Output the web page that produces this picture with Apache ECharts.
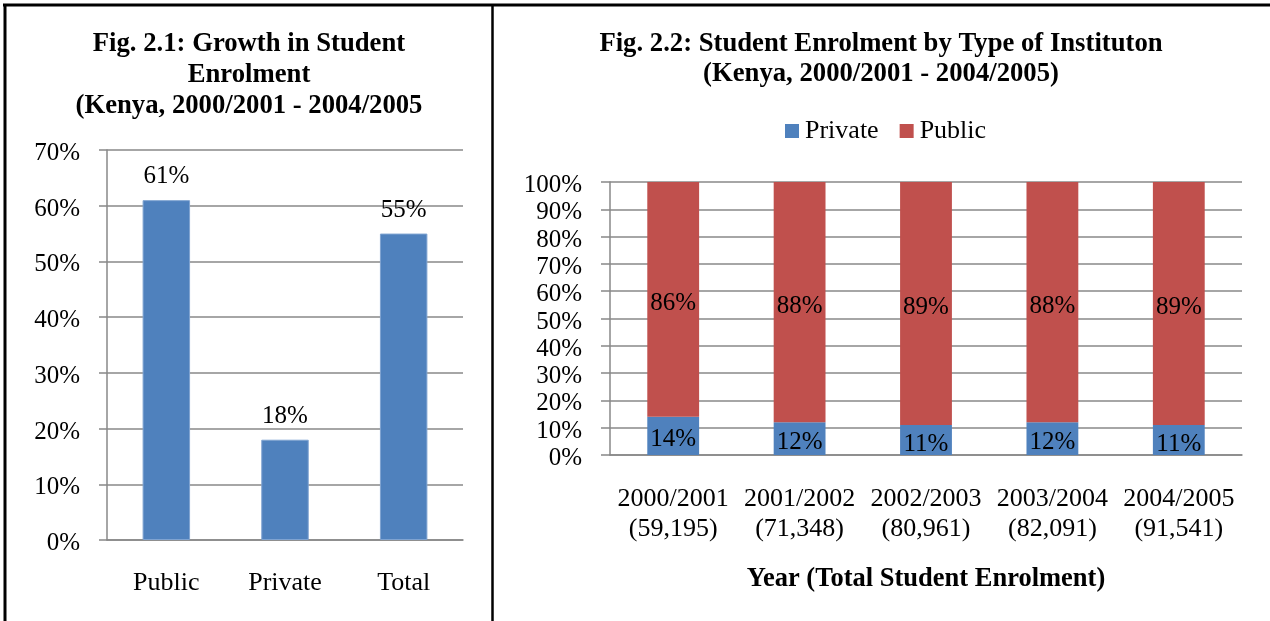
<!DOCTYPE html>
<html>
<head>
<meta charset="utf-8">
<script src="https://cdn.jsdelivr.net/npm/echarts@6/dist/echarts.min.js"></script>
<style>
html,body{margin:0;padding:0;background:#fff;}
#c{width:1270px;height:621px;}
</style>
</head>
<body>
<div id="c"></div>
<script>
// Fig 2.1 data
const growthCategories = ['Public', 'Private', 'Total'];
const growthValues = [61, 18, 55];
const growthTicks = ['0%', '10%', '20%', '30%', '40%', '50%', '60%', '70%'];

// Fig 2.2 data
const years = ['2000/2001', '2001/2002', '2002/2003', '2003/2004', '2004/2005'];
const totals = ['59,195', '71,348', '80,961', '82,091', '91,541'];
const privateShare = [14, 12, 11, 12, 11];
const publicShare = [86, 88, 89, 88, 89];

const FONT = "'Liberation Serif', 'Times New Roman', serif";
const BLUE = '#4F81BD';
const RED = '#C0504D';
const GRID = '#888888';

const yearLabels = years.map((y, i) => y + '\n(' + totals[i] + ')');

const chart = echarts.init(document.getElementById('c'), null, {renderer: 'canvas'});

const yRich = {t: {fontFamily: FONT, fontSize: 25, color: '#000', padding: [7, 0, 0, 0]}};

chart.setOption({
  backgroundColor: '#ffffff',
  animation: false,
  textStyle: {fontFamily: FONT},
  title: [
    {
      text: 'Fig. 2.1: Growth in Student\nEnrolment\n(Kenya, 2000/2001 - 2004/2005',
      left: 249, top: 29, padding: 0,
      textAlign: 'center', textVerticalAlign: 'top',
      textStyle: {fontFamily: FONT, fontSize: 26.7, fontWeight: 'bold', color: '#000', lineHeight: 31}
    },
    {
      text: 'Fig. 2.2: Student Enrolment by Type of Instituton\n(Kenya, 2000/2001 - 2004/2005)',
      left: 881, top: 29, padding: 0,
      textAlign: 'center', textVerticalAlign: 'top',
      textStyle: {fontFamily: FONT, fontSize: 26.7, fontWeight: 'bold', color: '#000', lineHeight: 30}
    }
  ],
  legend: {
    data: ['Private', 'Public'],
    left: 785, top: 118, padding: 0,
    icon: 'rect', itemWidth: 14, itemHeight: 14, itemGap: 21,
    textStyle: {fontFamily: FONT, fontSize: 26, color: '#000', padding: [0, 0, 0, 1]}
  },
  grid: [
    {left: 107, right: 807, top: 150, bottom: 81},
    {left: 610, right: 28, top: 182, bottom: 166}
  ],
  xAxis: [
    {
      gridIndex: 0, type: 'category', data: growthCategories,
      axisLine: {lineStyle: {color: GRID, width: 1.5}},
      axisTick: {length: 7, lineStyle: {color: GRID, width: 1.5}},
      axisLabel: {fontFamily: FONT, fontSize: 26, color: '#000', margin: 28, lineHeight: 30}
    },
    {
      gridIndex: 1, type: 'category', data: yearLabels,
      axisLine: {lineStyle: {color: GRID, width: 1.5}},
      axisTick: {length: 7, lineStyle: {color: GRID, width: 1.5}},
      axisLabel: {fontFamily: FONT, fontSize: 26, color: '#000', margin: 29, lineHeight: 30, interval: 0},
      name: 'Year (Total Student Enrolment)', nameLocation: 'middle', nameGap: 111,
      nameTextStyle: {fontFamily: FONT, fontSize: 26.5, fontWeight: 'bold', color: '#000'}
    }
  ],
  yAxis: [
    {
      gridIndex: 0, type: 'value', min: 0, max: 70, interval: 10,
      axisLine: {show: true, lineStyle: {color: GRID, width: 1.5}},
      axisTick: {show: true, length: 8, lineStyle: {color: GRID, width: 1.5}},
      splitLine: {lineStyle: {color: GRID, width: 1.5}},
      axisLabel: {fontFamily: FONT, fontSize: 25, color: '#000', margin: 27, rich: yRich,
        formatter: v => '{t|' + growthTicks[Math.round(v / 10)] + '}'}
    },
    {
      gridIndex: 1, type: 'value', min: 0, max: 100, interval: 10,
      axisLine: {show: true, lineStyle: {color: GRID, width: 1.5}},
      axisTick: {show: true, length: 9, lineStyle: {color: GRID, width: 1.5}},
      splitLine: {lineStyle: {color: GRID, width: 1.5}},
      axisLabel: {fontFamily: FONT, fontSize: 25, color: '#000', margin: 28, rich: yRich,
        formatter: v => '{t|' + v + '%}'}
    }
  ],
  series: [
    {
      name: 'Growth', type: 'bar', xAxisIndex: 0, yAxisIndex: 0,
      data: growthValues, barWidth: '40%',
      itemStyle: {color: BLUE, borderColor: '#7fa3d1', borderWidth: 1},
      label: {show: true, position: 'top', distance: 11, fontFamily: FONT, fontSize: 25, color: '#000', formatter: '{c}%'}
    },
    {
      name: 'Private', type: 'bar', xAxisIndex: 1, yAxisIndex: 1, stack: 'share',
      data: privateShare, barWidth: '41%',
      itemStyle: {color: BLUE},
      label: {show: true, position: 'inside', offset: [0, 4], fontFamily: FONT, fontSize: 25, color: '#000', formatter: '{c}%'}
    },
    {
      name: 'Public', type: 'bar', xAxisIndex: 1, yAxisIndex: 1, stack: 'share',
      data: publicShare, barWidth: '41%',
      itemStyle: {color: RED},
      label: {show: true, position: 'inside', offset: [0, 4], fontFamily: FONT, fontSize: 25, color: '#000', formatter: '{c}%'}
    }
  ],
  graphic: [
    {type: 'line', shape: {x1: 3, y1: 5, x2: 1270, y2: 5}, style: {stroke: '#000', lineWidth: 3}},
    {type: 'line', shape: {x1: 5, y1: 4, x2: 5, y2: 621}, style: {stroke: '#000', lineWidth: 3}},
    {type: 'line', shape: {x1: 492.5, y1: 5, x2: 492.5, y2: 621}, style: {stroke: '#000', lineWidth: 2.5}}
  ]
});
</script>
</body>
</html>
